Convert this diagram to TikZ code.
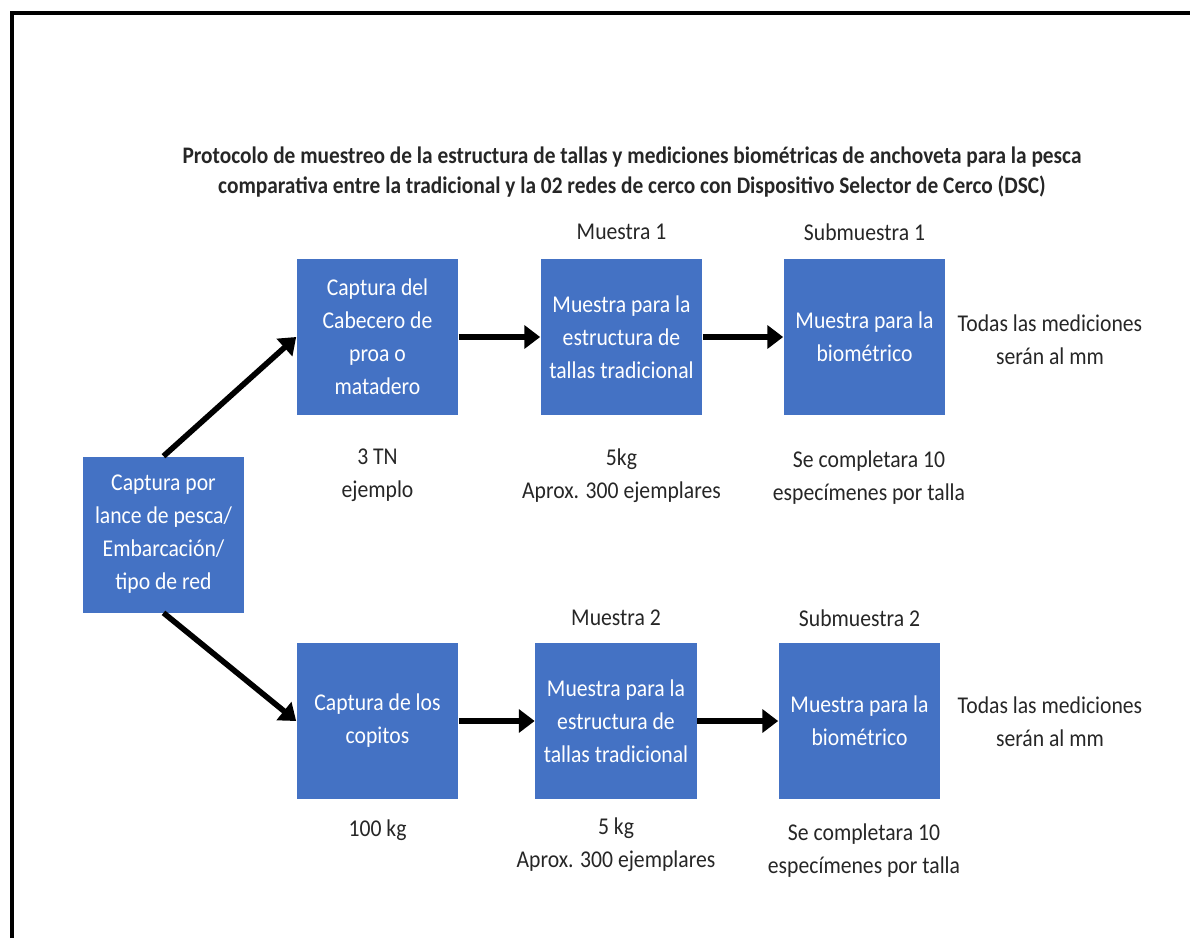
\documentclass[tikz,border=0pt]{standalone}
\usepackage{fontspec}
\setmainfont{Carlito}[FakeStretch=0.9]
\usepackage{xcolor}
\usetikzlibrary{arrows.meta}

\definecolor{cajaazul}{HTML}{4472C4}
\definecolor{textogris}{HTML}{262626}

\tikzset{
  paso/.style={fill=cajaazul, text=white, align=center, inner sep=2pt,
    minimum width=3.24cm, minimum height=3.12cm, font=\fontsize{13.7}{18.8}\selectfont},
  nota/.style={align=center, text=textogris, font=\fontsize{13.7}{18.8}\selectfont},
  flecha/.style={line width=3.2pt, -{Triangle[length=9pt,width=13pt]}}
}

\begin{document}
\begin{tikzpicture}[x=0.02cm, y=-0.02cm]
\useasboundingbox (0,0) rectangle (1190,938);

% Frame (only left and top edges are visible)
\draw[line width=1.8pt] (12,938) -- (12,13) -- (1190,13);

% Title
\node[nota, font=\bfseries\fontsize{13.5}{17}\selectfont] (titulo) at (632,172)
  {Protocolo de muestreo de la estructura de tallas y mediciones biom\'etricas de anchoveta para la pesca\\
   comparativa entre la tradicional y la 02 redes de cerco con Dispositivo Selector de Cerco (DSC)};

% Starting box
\node[paso] (captura) at (163.5,534.5) {Captura por\\lance de pesca/\\Embarcaci\'on/\\tipo de red};

% Top branch
\node[paso] (cabecero) at (377.5,337) {Captura del\\Cabecero de\\proa o\\matadero};
\node[paso] (muestraA) at (621.5,337) {Muestra para la\\estructura de\\tallas tradicional};
\node[paso] (biomA) at (864.5,337) {Muestra para la\\biom\'etrico};

% Bottom branch
\node[paso] (copitos) at (377.5,721) {Captura de los\\copitos};
\node[paso] (muestraB) at (616,721) {Muestra para la\\estructura de\\tallas tradicional};
\node[paso] (biomB) at (859.5,721) {Muestra para la\\biom\'etrico};

% Labels above the boxes
\node[nota] (etiqA) at (621.5,232) {Muestra 1};
\node[nota] (etiqSA) at (864.5,232) {Submuestra 1};
\node[nota] (etiqB) at (616,618) {Muestra 2};
\node[nota] (etiqSB) at (859.5,618) {Submuestra 2};

% Labels below the boxes
\node[nota] (pesoCab) at (377.5,475) {3 TN\\ejemplo};
\node[nota] (pesoA) at (621.5,476) {5kg\\Aprox. 300 ejemplares};
\node[nota] (tallaA) at (869,478) {Se completara 10\\espec\'imenes por talla};
\node[nota] (pesoCop) at (377.5,830) {100 kg};
\node[nota] (pesoB) at (616,845) {5 kg\\Aprox. 300 ejemplares};
\node[nota] (tallaB) at (864,851) {Se completara 10\\espec\'imenes por talla};

% Labels at the right
\node[nota] (medA) at (1050,340) {Todas las mediciones\\ser\'an al mm};
\node[nota] (medB) at (1050,722) {Todas las mediciones\\ser\'an al mm};

% Arrows
\draw[flecha] (captura.north) -- (cabecero.west);
\draw[flecha] (captura.south) -- (copitos.west);
\draw[flecha] (cabecero) -- (muestraA);
\draw[flecha] (muestraA) -- (biomA);
\draw[flecha] (copitos) -- (muestraB);
\draw[flecha] (muestraB) -- (biomB);

\end{tikzpicture}
\end{document}
